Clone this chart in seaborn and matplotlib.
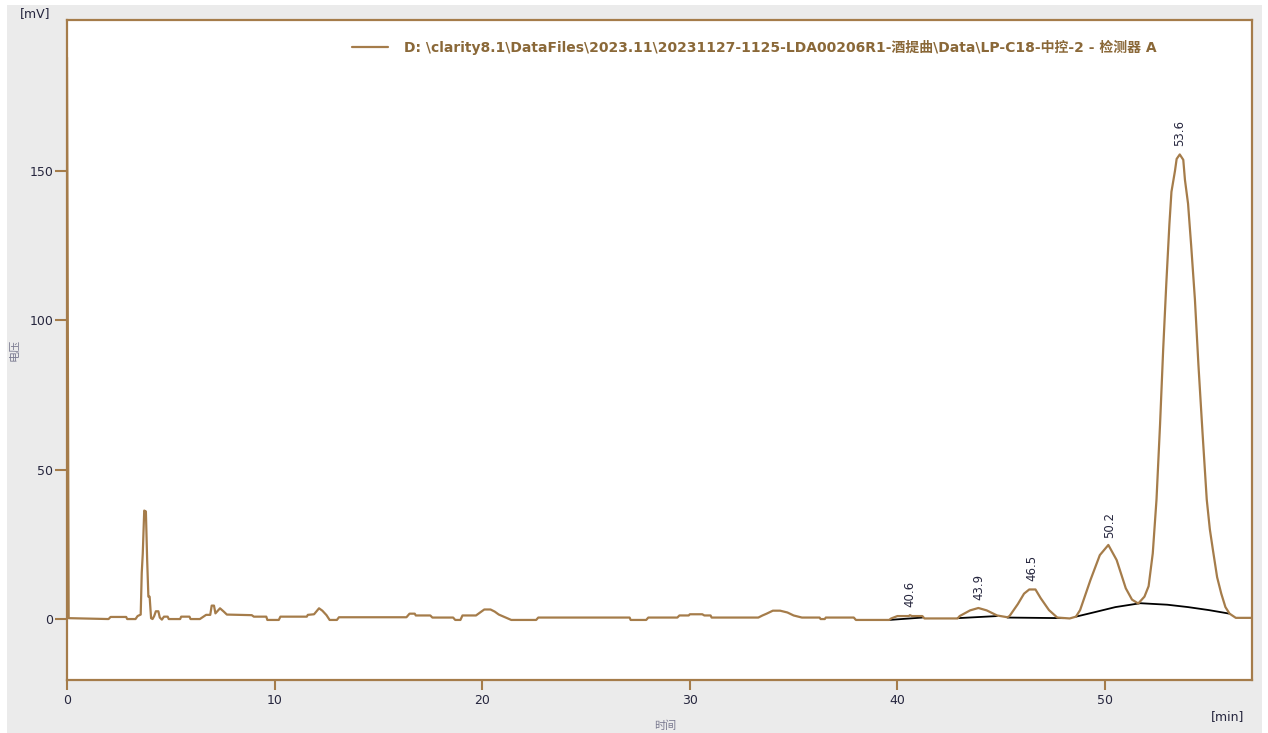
import numpy as np
import pandas as pd
import matplotlib
matplotlib.use("Agg")
import matplotlib.pyplot as plt
from matplotlib.patches import Rectangle
import seaborn as sns

# ---------------- data ----------------
time_min = [0.00, 0.08, 2.0, 2.1, 2.85, 2.9, 3.3, 3.4, 3.55, 3.6, 3.65, 3.72, 3.8, 3.86, 3.92, 3.98,
            4.05, 4.12, 4.2, 4.28, 4.4, 4.47, 4.57, 4.67, 4.85, 4.9, 5.45, 5.5, 5.9, 5.95, 6.4,
            6.55, 6.7, 6.9, 6.97, 7.08, 7.15, 7.37, 7.55, 7.7, 8.9, 9.0, 9.6, 9.65, 10.2, 10.28,
            11.55, 11.6, 11.9, 12.14, 12.3, 12.5, 12.65, 13.0, 13.1, 16.35, 16.5, 16.75, 16.8,
            17.5, 17.6, 18.6, 18.7, 18.95, 19.05, 19.7, 19.9, 20.1, 20.4, 20.6, 20.8, 21.0, 21.4,
            22.6, 22.7, 27.1, 27.15, 27.9, 28.0, 29.4, 29.5, 29.95, 30.0, 30.6, 30.7, 31.0, 31.05,
            33.3, 33.5, 33.7, 34.0, 34.35, 34.7, 35.0, 35.4, 36.25, 36.3, 36.5, 36.55, 37.9, 38.0,
            39.6, 39.7, 40.0, 40.55, 40.6, 40.7, 41.2, 41.3, 42.9, 43.0, 43.5, 43.9, 44.3, 44.8,
            45.3, 45.4, 45.8, 46.1, 46.35, 46.65, 46.9, 47.3, 47.7, 48.3, 48.6, 48.8, 49.3, 49.75,
            50.16, 50.56, 51.0, 51.3, 51.6, 51.9, 52.1, 52.3, 52.48, 52.65, 52.8, 52.95, 53.1,
            53.2, 53.37, 53.45, 53.6, 53.77, 53.85, 54.0, 54.15, 54.33, 54.5, 54.7, 54.9, 55.05,
            55.2, 55.4, 55.6, 55.8, 56.0, 56.3, 57.1]
signal_mv = [188.0, 0.3, 0.0, 0.7, 0.7, 0.0, 0.0, 1.0, 1.5, 15.4, 22.0, 36.3, 36.0, 20.0, 7.5, 7.5,
             0.3, 0.0, 1.0, 2.6, 2.6, 0.5, -0.2, 0.8, 0.8, 0.0, 0.0, 0.8, 0.8, 0.0, 0.0,
             0.7, 1.4, 1.4, 4.5, 4.5, 1.9, 3.6, 2.5, 1.5, 1.3, 0.8, 0.8, -0.3, -0.3, 0.8,
             0.8, 1.4, 1.6, 3.6, 2.8, 1.3, -0.3, -0.3, 0.6, 0.6, 1.8, 1.8, 1.2,
             1.2, 0.5, 0.5, -0.3, -0.3, 1.2, 1.2, 2.2, 3.2, 3.2, 2.5, 1.5, 0.9, -0.3,
             -0.3, 0.5, 0.5, -0.3, -0.3, 0.5, 0.5, 1.2, 1.2, 1.6, 1.6, 1.2, 1.2, 0.5,
             0.5, 1.2, 1.8, 2.8, 2.8, 2.2, 1.2, 0.5, 0.5, 0.0, 0.0, 0.5, 0.5, -0.3,
             -0.3, 0.2, 1.0, 1.0, 1.3, 1.0, 1.0, 0.2, 0.2, 1.0, 2.9, 3.7, 2.9, 1.2,
             0.6, 1.0, 5.0, 8.5, 9.9, 9.9, 7.0, 3.0, 0.5, 0.2, 0.8, 3.0, 13.1, 21.4,
             24.8, 19.75, 10.3, 6.5, 5.2, 7.5, 11.0, 22.0, 40.0, 65.0, 90.0, 112.0, 132.0,
             143.0, 150.0, 154.0, 155.5, 153.7, 147.0, 139.0, 125.0, 107.0, 85.0, 62.0, 40.0, 30.0,
             23.0, 14.0, 8.5, 4.0, 1.8, 0.4, 0.4]

# integration baselines (segment id, time, value)
base_seg = [1, 1, 2, 2, 3, 3, 4, 4, 4, 4, 4, 4, 4, 4]
base_time = [39.6, 41.2, 42.9, 44.8, 45.3, 48.0, 48.6, 49.5, 50.5, 51.7, 53.0, 54.0, 55.0, 56.0]
base_mv = [-0.3, 0.5, 0.3, 1.0, 0.5, 0.3, 0.8, 2.3, 4.0, 5.3, 4.8, 4.0, 3.0, 1.8]

peak_times = [40.6, 43.9, 46.5, 50.2, 53.6]
peak_labels = ["40.6", "43.9", "46.5", "50.2", "53.6"]

x_ticks = [0, 10, 20, 30, 40, 50]
y_ticks = [0, 50, 100, 150]

legend_label = ("D: \\clarity8.1\\DataFiles\\2023.11\\20231127-1125-LDA00206R1-酒提曲"
                "\\Data\\LP-C18-中控-2 - 检测器 A")

# ---------------- style ----------------
BROWN = "#a57c4a"
TXT = "#26263e"
sns.set_theme(style="white")
plt.rcParams["font.family"] = ["DejaVu Sans", "Noto Sans CJK SC"]

fig = plt.figure(figsize=(12.68, 7.33), dpi=100, facecolor="white")
fig.patches.append(Rectangle((7 / 1268, 0), 1 - 13 / 1268, 1 - 5 / 733,
                             transform=fig.transFigure, facecolor="#ebebeb",
                             edgecolor="none", zorder=-10))
ax = fig.add_axes([67 / 1268, 1 - 680 / 733, (1252 - 67) / 1268, (680 - 20) / 733])
ax.set_facecolor("white")

trace = pd.DataFrame({"t": time_min, "v": signal_mv})
sns.lineplot(data=trace, x="t", y="v", ax=ax, sort=False, estimator=None,
             color=BROWN, lw=1.6, label=legend_label, zorder=3)

bl = pd.DataFrame({"seg": base_seg, "t": base_time, "v": base_mv})
sns.lineplot(data=bl, x="t", y="v", units="seg", estimator=None, sort=False, ax=ax,
             color="black", lw=1.3, legend=False, zorder=2)

for pt, lab in zip(peak_times, peak_labels):
    h = np.interp(pt, time_min, signal_mv)
    ax.annotate(lab, xy=(pt, h), xytext=(0, 6), textcoords="offset points",
                rotation=90, ha="center", va="bottom", fontsize=8.5, color=TXT)

ax.set_xlim(0, 57.08)
ax.set_ylim(-20.4, 200.5)
ax.set_xticks(x_ticks)
ax.set_yticks(y_ticks)
ax.set_xlabel("")
ax.set_ylabel("")
ax.tick_params(axis="both", direction="out", colors=BROWN, labelcolor=TXT,
               labelsize=9, width=1.5, bottom=True, left=True)
ax.tick_params(axis="x", length=7, pad=3)
ax.tick_params(axis="y", length=9, pad=1)
for s in ax.spines.values():
    s.set_color(BROWN)
    s.set_linewidth(1.6)
    s.set_visible(True)

fig.text(20 / 1268, 1 - 14 / 733, "[mV]", fontsize=9, color=TXT, ha="left", va="center")
fig.text(1228 / 1268, 1 - 717 / 733, "[min]", fontsize=9, color=TXT, ha="center", va="center")
fig.text(665 / 1268, 1 - 726 / 733, "时间", fontsize=8, color="#7a7a90", ha="center",
         va="center", family=["Noto Sans CJK SC", "DejaVu Sans"])
fig.text(14 / 1268, 1 - 350 / 733, "电压", fontsize=8, color="#7a7a90", ha="center",
         va="center", rotation=90, family=["Noto Sans CJK SC", "DejaVu Sans"])

leg = ax.legend(loc="center", bbox_to_anchor=(0.58, 0.958), frameon=False,
                handlelength=2.6, handletextpad=1.2, fontsize=10)
for t in leg.get_texts():
    t.set_color("#8a6838")
    t.set_fontweight("semibold")

fig.savefig("out.png", dpi=100, facecolor=fig.get_facecolor())
